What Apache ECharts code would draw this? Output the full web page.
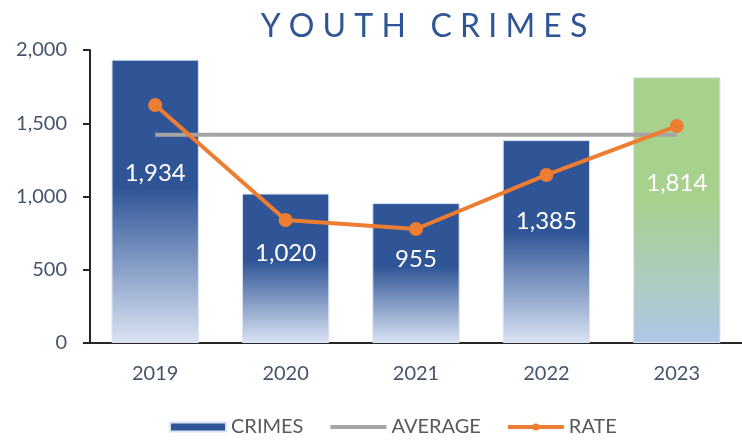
<!DOCTYPE html>
<html>
<head>
<meta charset="utf-8">
<script src="https://cdn.jsdelivr.net/npm/echarts@6/dist/echarts.min.js"></script>
<style>
html, body { margin: 0; padding: 0; background: #fff; }
#chart { width: 742px; height: 440px; }
</style>
</head>
<body>
<div id="chart"></div>
<script>
var years = ['2019', '2020', '2021', '2022', '2023'];
var crimes = [1934, 1020, 955, 1385, 1814];
var average = [1422, 1422, 1422, 1422, 1422];
var rate = [1625, 840, 778, 1147, 1481];
var yTicks = [0, 500, 1000, 1500, 2000];

var FONT = 'Lato';

// blue fade for most bars, green->blue for the last one
var blueFade = new echarts.graphic.LinearGradient(0, 0, 0, 1, [
	{offset: 0, color: '#2F5597'},
	{offset: 0.45, color: '#2F5597'},
	{offset: 1, color: '#DAE3F3'}
]);
var greenFade = new echarts.graphic.LinearGradient(0, 0, 0, 1, [
	{offset: 0, color: '#A9D18E'},
	{offset: 0.46, color: '#A9D18E'},
	{offset: 1, color: '#B0C6E6'}
]);

var barData = crimes.map(function(v, i) {
	return {
		value: v,
		itemStyle: {color: i === crimes.length - 1 ? greenFade : blueFade}
	};
});

var myChart = echarts.init(document.getElementById('chart'));
var option = {
	animation: false,
	title: {
		text: 'Y O U T H   C R I M E S',
		left: 419,
		textAlign: 'center',
		top: 6,
		textStyle: {
			color: '#2F5597',
			fontFamily: FONT,
			fontSize: 32,
			fontWeight: 'normal'
		}
	},
	grid: {
		left: 90,
		right: -5,
		top: 50,
		bottom: 97
	},
	legend: {
		bottom: -2,
		left: 164,
		itemWidth: 56,
		itemHeight: 9,
		itemGap: 25,
		textStyle: {color: '#595959', fontFamily: FONT, fontSize: 20},
		data: [
			{name: 'CRIMES', icon: 'rect'},
			{name: 'AVERAGE', itemStyle: {color: 'transparent', borderWidth: 0}, lineStyle: {width: 4}},
			{name: 'RATE', lineStyle: {width: 4}}
		]
	},
	xAxis: {
		type: 'category',
		data: years,
		axisLine: {lineStyle: {color: '#262626', width: 2}},
		axisTick: {show: false},
		axisLabel: {color: '#44546A', fontFamily: FONT, fontSize: 20, margin: 21}
	},
	yAxis: {
		type: 'value',
		min: 0,
		max: 2000,
		interval: 500,
		splitLine: {show: false},
		axisLine: {show: true, lineStyle: {color: '#262626', width: 2}},
		axisTick: {show: true, length: 7, lineStyle: {color: '#262626', width: 2}},
		axisLabel: {
			color: '#44546A',
			fontFamily: FONT,
			fontSize: 20,
			margin: 23,
			formatter: function(v) {
				return yTicks.indexOf(v) >= 0 ? v.toLocaleString('en-US') : '';
			}
		}
	},
	series: [
		{
			name: 'CRIMES',
			type: 'bar',
			barWidth: '67%',
			data: barData,
			itemStyle: {color: '#2F5597', borderColor: '#DAE3F3', borderWidth: 1},
			label: {
				show: true,
				position: ['50%', '40%'],
				align: 'center',
				verticalAlign: 'middle',
				color: '#fff',
				fontFamily: FONT,
				fontSize: 24,
				formatter: function(p) {
					return p.value.toLocaleString('en-US');
				}
			},
			z: 1
		},
		{
			name: 'AVERAGE',
			type: 'line',
			data: average,
			symbol: 'none',
			lineStyle: {color: '#A5A5A5', width: 4},
			itemStyle: {color: '#A5A5A5'},
			z: 2
		},
		{
			name: 'RATE',
			type: 'line',
			data: rate,
			symbol: 'circle',
			symbolSize: 14,
			lineStyle: {color: '#ED7D31', width: 4},
			itemStyle: {color: '#ED7D31'},
			z: 3
		}
	]
};
myChart.setOption(option);
</script>
</body>
</html>
